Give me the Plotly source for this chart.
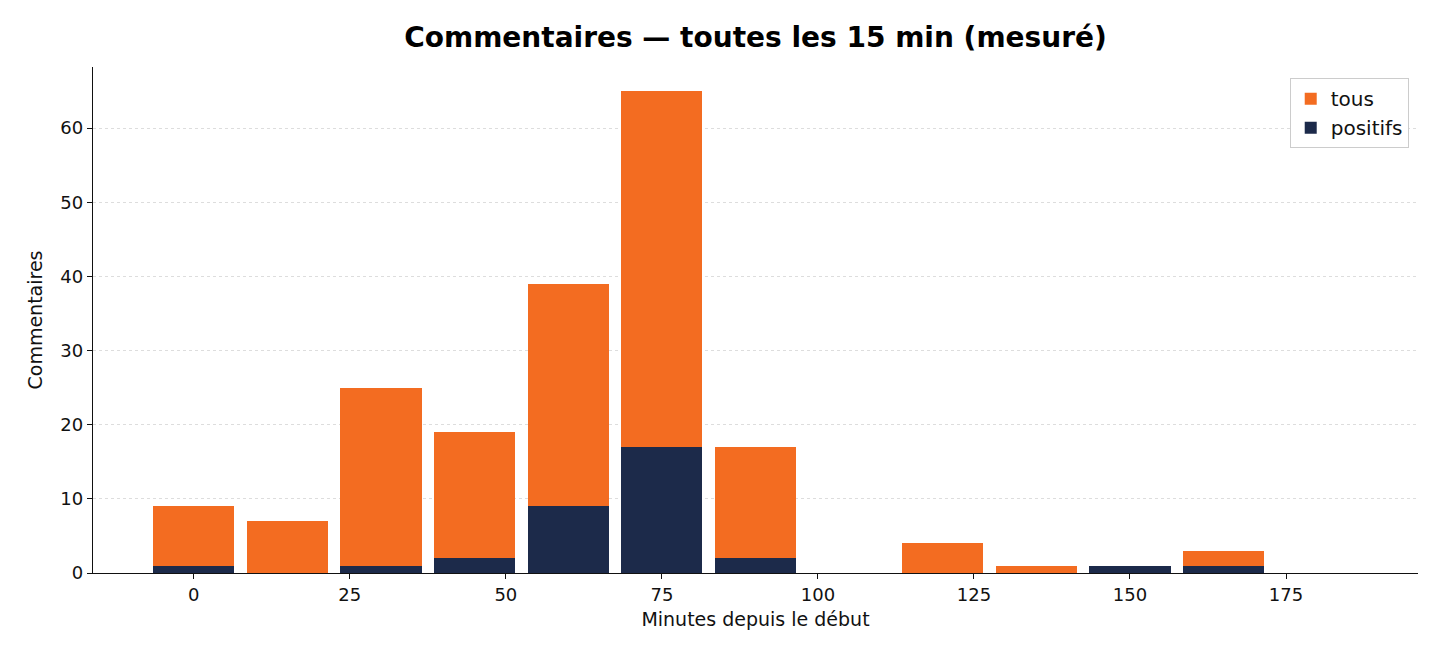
import plotly.graph_objects as go

# Data (bins of 15 min)
minutes = [0, 15, 30, 45, 60, 75, 90, 105, 120, 135, 150, 165, 180]
tous = [9, 7, 25, 19, 39, 65, 17, 0, 4, 1, 1, 3, 0]
positifs = [1, 0, 1, 2, 9, 17, 2, 0, 0, 0, 1, 1, 0]

ORANGE = '#F36C21'
NAVY = '#1C2A4A'
FONT = 'DejaVu Sans, sans-serif'

fig = go.Figure()
fig.add_trace(go.Bar(x=minutes, y=tous, width=13, name='tous',
                     marker=dict(color=ORANGE, line=dict(width=0))))
fig.add_trace(go.Bar(x=minutes, y=positifs, width=13, name='positifs',
                     marker=dict(color=NAVY, line=dict(width=0))))

fig.update_layout(
    width=1440, height=660,
    barmode='overlay',
    template='plotly_white',
    plot_bgcolor='white', paper_bgcolor='white',
    font=dict(family=FONT, size=18, color='#111'),
    title=dict(text='<b>Commentaires — toutes les 15 min (mesuré)</b>',
               x=0.5, xref='paper', xanchor='center', y=0.956, yanchor='middle',
               font=dict(size=28, color='#000')),
    margin=dict(l=85, r=30, t=59, b=95),
    xaxis=dict(
        title=dict(text='Minutes depuis le début', font=dict(size=19), standoff=8),
        range=[-16.15, 196.15], tickvals=[0, 25, 50, 75, 100, 125, 150, 175],
        showgrid=False, zeroline=False,
        showline=True, linecolor='#111', linewidth=1.3,
        ticks='outside', ticklen=5, tickcolor='#111',
    ),
    yaxis=dict(
        title=dict(text='Commentaires', font=dict(size=19), standoff=12),
        range=[0, 68.25], tickvals=[0, 10, 20, 30, 40, 50, 60],
        showgrid=True, gridcolor='#dddddd', griddash='dot', gridwidth=1,
        zeroline=False,
        showline=True, linecolor='#111', linewidth=1.3,
        ticks='outside', ticklen=5, tickcolor='#111',
    ),
    legend=dict(x=0.993, y=0.978, xanchor='right', yanchor='top',
                bordercolor='#cccccc', borderwidth=1, bgcolor='white',
                font=dict(size=20)),
    bargap=0,
)

fig.write_html("out.html")
